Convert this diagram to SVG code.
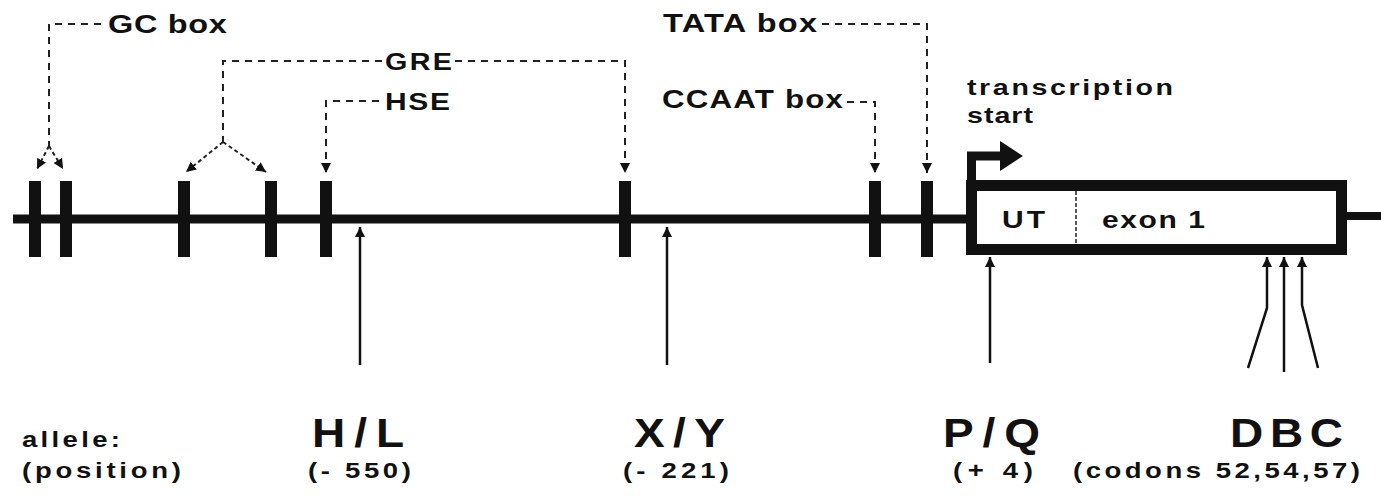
<svg xmlns="http://www.w3.org/2000/svg" width="1381" height="499" viewBox="0 0 1381 499">
<style>
  text { font-family: "Liberation Sans", Arial, sans-serif; font-weight: bold; fill: #111; }
  .bar { fill: #111; }
  .dash { fill: none; stroke: #222; stroke-width: 2; stroke-dasharray: 7 6; }
  .dashb { fill: none; stroke: #222; stroke-width: 2; stroke-dasharray: 4 3; }
  .up { fill: none; stroke: #111; stroke-width: 2.5; }
  .big { font-size: 40px; }
  .pos { font-size: 22px; }
</style>
<defs>
  <marker id="ah" viewBox="0 0 10 10" refX="10" refY="5" markerWidth="10" markerHeight="11" markerUnits="userSpaceOnUse" orient="auto">
    <path d="M0,0 L10,5 L0,10 z" fill="#111" stroke="none"/>
  </marker>
</defs>
<rect width="1381" height="499" fill="#fff"/>

<g id="backbone">
  <line x1="13" y1="219" x2="968" y2="219" stroke="#111" stroke-width="9"/>
  <line x1="1345" y1="216" x2="1381" y2="216" stroke="#111" stroke-width="8"/>
</g>

<g id="gc-box">
  <rect class="bar" x="29" y="181" width="12" height="76"/>
  <rect class="bar" x="60" y="181" width="12" height="76"/>
  <text transform="translate(108,33) scale(1.25,1)" font-size="26" textLength="95" lengthAdjust="spacing">GC box</text>
</g>
<g id="gre">
  <rect class="bar" x="178" y="181" width="12" height="76"/>
  <rect class="bar" x="265" y="181" width="12" height="76"/>
  <rect class="bar" x="619" y="181" width="12" height="76"/>
  <text transform="translate(385,70) scale(1.25,1)" font-size="23" textLength="53.6" lengthAdjust="spacing">GRE</text>
</g>
<g id="hse">
  <rect class="bar" x="320" y="181" width="12" height="76"/>
  <text transform="translate(385,110) scale(1.25,1)" font-size="24" textLength="52" lengthAdjust="spacing">HSE</text>
</g>
<g id="ccaat-box">
  <rect class="bar" x="869" y="181" width="12" height="76"/>
  <text transform="translate(662,108) scale(1.25,1)" font-size="25" textLength="144.8" lengthAdjust="spacing">CCAAT box</text>
</g>
<g id="tata-box">
  <rect class="bar" x="921" y="181" width="12" height="76"/>
  <text transform="translate(663,32) scale(1.25,1)" font-size="26" textLength="123.2" lengthAdjust="spacing">TATA box</text>
</g>
<g id="transcription-start">
  <text transform="translate(967,95) scale(1.3,1)" font-size="22" textLength="158.5" lengthAdjust="spacing">transcription</text>
  <text transform="translate(967,123) scale(1.3,1)" font-size="22" textLength="50.8" lengthAdjust="spacing">start</text>
  <path d="M971.5,186 V156 H1002" fill="none" stroke="#111" stroke-width="9"/>
  <polygon points="1000,141 1023,156 1000,171" fill="#111"/>
</g>
<g id="exon-1">
  <rect x="971.5" y="185.5" width="370" height="64" fill="none" stroke="#111" stroke-width="11"/>
  <line x1="1076" y1="191" x2="1076" y2="244" stroke="#222" stroke-width="1.5" stroke-dasharray="4 2"/>
  <text transform="translate(1002,228) scale(1.25,1)" font-size="24" textLength="34.4" lengthAdjust="spacing">UT</text>
  <text transform="translate(1102,228) scale(1.25,1)" font-size="24" textLength="82.4" lengthAdjust="spacing">exon 1</text>
</g>

<g id="allele-labels">
  <text class="pos" transform="translate(22,447) scale(1.25,1)" textLength="78.4" lengthAdjust="spacing">allele:</text>
  <text class="pos" transform="translate(22,478) scale(1.25,1)" textLength="127.2" lengthAdjust="spacing">(position)</text>
</g>
<g id="allele-hl">
  <text class="big" transform="translate(312,447) scale(1.15,1)" textLength="80" lengthAdjust="spacing">H/L</text>
  <text class="pos" transform="translate(308,478) scale(1.25,1)" textLength="82.4" lengthAdjust="spacing">(- 550)</text>
</g>
<g id="allele-xy">
  <text class="big" transform="translate(634,447) scale(1.15,1)" textLength="79.1" lengthAdjust="spacing">X/Y</text>
  <text class="pos" transform="translate(623,478) scale(1.25,1)" textLength="84.8" lengthAdjust="spacing">(- 221)</text>
</g>
<g id="allele-pq">
  <text class="big" transform="translate(943,447) scale(1.15,1)" textLength="84.3" lengthAdjust="spacing">P/Q</text>
  <text class="pos" transform="translate(953,478) scale(1.25,1)" textLength="64" lengthAdjust="spacing">(+ 4)</text>
</g>
<g id="allele-dbc">
  <text class="big" transform="translate(1230,447) scale(1.15,1)" textLength="98.3" lengthAdjust="spacing">DBC</text>
  <text class="pos" transform="translate(1073,478) scale(1.25,1)" textLength="229.6" lengthAdjust="spacing">(codons 52,54,57)</text>
</g>

<g id="connectors">
  <path class="dash" d="M101,24 H49 V146"/>
  <path class="dashb" d="M49,146 L37,169" marker-end="url(#ah)"/>
  <path class="dashb" d="M49,146 L63,169" marker-end="url(#ah)"/>

  <path class="dash" d="M382,61 H223 V142"/>
  <path class="dashb" d="M223,142 L186,172" marker-end="url(#ah)"/>
  <path class="dashb" d="M223,142 L266,172" marker-end="url(#ah)"/>
  <path class="dash" d="M455,61 H625 V173" marker-end="url(#ah)"/>

  <path class="dash" d="M379,101 H326 V173" marker-end="url(#ah)"/>
  <path class="dash" d="M822,24 H927 V173" marker-end="url(#ah)"/>
  <path class="dash" d="M847,102 H875 V173" marker-end="url(#ah)"/>

  <path class="up" d="M360,365 V227" marker-end="url(#ah)"/>
  <path class="up" d="M667,365 V227" marker-end="url(#ah)"/>
  <path class="up" d="M990,363 V257" marker-end="url(#ah)"/>
  <path class="up" d="M1248,368 L1267,308 V257" marker-end="url(#ah)"/>
  <path class="up" d="M1284,372 V257" marker-end="url(#ah)"/>
  <path class="up" d="M1318,368 L1302,305 V257" marker-end="url(#ah)"/>
</g>
</svg>
